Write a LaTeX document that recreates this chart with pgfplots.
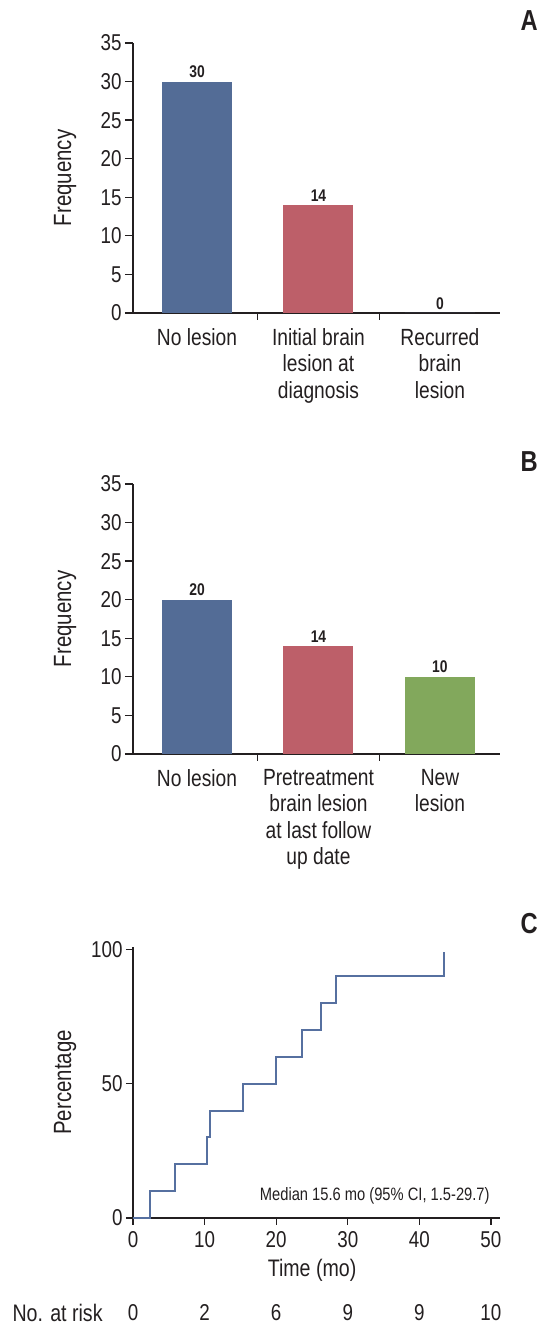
\documentclass[border=0pt]{standalone}
\usepackage{fontspec}
\setmainfont{Liberation Sans}[FakeStretch=0.82]
\usepackage{pgfplots}
\pgfplotsset{compat=1.18}
\definecolor{axcol}{HTML}{231F20}
\definecolor{cblue}{HTML}{536C96}
\definecolor{cred}{HTML}{BD5F69}
\definecolor{cgreen}{HTML}{82A85C}
\definecolor{cline}{HTML}{5670A0}
\tikzset{risk/.style={font=\fontsize{23}{23}\selectfont, text=axcol, yshift=-95bp}}
\pgfplotsset{
  panel/.style={
    scale only axis, width=367bp, height=270bp, anchor=south west,
    axis lines=left, axis line style={-, line width=1.3bp, color=axcol},
    every tick/.style={line width=1.3bp, color=axcol},
    tick align=outside, major tick length=8bp,
    /pgf/number format/assume math mode=true,
    tick label style={font=\fontsize{23}{23}\selectfont, text=axcol},
    label style={font=\fontsize{24}{24}\selectfont, text=axcol},
    clip=false,
  },
  barpanel/.style={panel,
    xmin=-0.527, xmax=2.494, ymin=0, ymax=35, ytick={0,5,...,35},
    xtick={0,1,2}, xtick style={draw=none},
    xticklabel style={align=center, font=\fontsize{23.5}{26.5}\selectfont, anchor=north, yshift=-4bp},
    ylabel=Frequency,
    ylabel style={at={(axis description cs:-0.185,0.5)}, anchor=center, font=\fontsize{25}{25}\selectfont},
    ybar, bar width=70bp, bar shift=0pt,
    nodes near coords,
    nodes near coords style={font=\bfseries\fontsize{17}{17}\selectfont, text=axcol, anchor=south, inner sep=3.5bp},
  },
}
\begin{document}
\begin{tikzpicture}
\path (0,0) rectangle (541bp,-1325bp);
% Panel A
\begin{axis}[barpanel, at={(133bp,-313bp)},
  xticklabels={No lesion, {Initial brain\\lesion at\\diagnosis}, {Recurred\\brain\\lesion}}]
\addplot[fill=cblue, draw=none] coordinates {(0,30)};
\addplot[fill=cred, draw=none] coordinates {(1,14)};
\addplot[fill=cblue, draw=none] coordinates {(2,0)};
\draw[axcol, line width=1.3bp] (axis cs:0.5,0) -- ([yshift=-7bp]axis cs:0.5,0);
\draw[axcol, line width=1.3bp] (axis cs:1.5,0) -- ([yshift=-7bp]axis cs:1.5,0);
\end{axis}
% Panel B
\begin{axis}[barpanel, at={(133bp,-754bp)},
  xticklabels={No lesion, {Pretreatment\\brain lesion\\at last follow\\up date}, {New\\lesion}}]
\addplot[fill=cblue, draw=none] coordinates {(0,20)};
\addplot[fill=cred, draw=none] coordinates {(1,14)};
\addplot[fill=cgreen, draw=none] coordinates {(2,10)};
\draw[axcol, line width=1.3bp] (axis cs:0.5,0) -- ([yshift=-7bp]axis cs:0.5,0);
\draw[axcol, line width=1.3bp] (axis cs:1.5,0) -- ([yshift=-7bp]axis cs:1.5,0);
\end{axis}
% Panel C
\begin{axis}[panel, at={(133bp,-1218bp)}, height=271bp,
  xmin=0, xmax=51.26, ymin=0, ymax=101,
  xtick={0,10,...,50}, ytick={0,50,100}, major tick length=7bp,
  xticklabel style={yshift=-3bp},
  xlabel={Time (mo)}, ylabel={Percentage},
  xlabel style={at={(axis description cs:0.488,-0.192)}, anchor=center},
  ylabel style={at={(axis description cs:-0.185,0.5)}, anchor=center, font=\fontsize{25}{25}\selectfont}]
\addplot[const plot, color=cline, line width=2bp] coordinates {
(0,0) (2.4,10) (5.8,20) (10.4,30) (10.8,40) (15.4,50) (20,60) (23.6,70) (26.2,80) (28.3,90) (43.5,99)};
\node[anchor=east, font=\fontsize{18}{18}\selectfont, text=axcol] at (axis cs:50.3,8.4) {Median 15.6 mo (95\% CI, 1.5-29.7)};
\node[anchor=west, font=\fontsize{24}{24}\selectfont, text=axcol, yshift=-95bp, xshift=-124bp] at (axis cs:0,0) {No. at risk};
\node[risk] at (axis cs:0,0) {0};
\node[risk] at (axis cs:10,0) {2};
\node[risk] at (axis cs:20,0) {6};
\node[risk] at (axis cs:30,0) {9};
\node[risk] at (axis cs:40,0) {9};
\node[risk] at (axis cs:50,0) {10};
\end{axis}
% Panel letters
\node[anchor=north east, font=\bfseries\fontsize{29}{29}\selectfont, text=axcol, inner sep=0pt] at (538bp,-10bp) {A};
\node[anchor=north east, font=\bfseries\fontsize{29}{29}\selectfont, text=axcol, inner sep=0pt] at (538bp,-451bp) {B};
\node[anchor=north east, font=\bfseries\fontsize{29}{29}\selectfont, text=axcol, inner sep=0pt] at (538bp,-913bp) {C};
\end{tikzpicture}
\end{document}
